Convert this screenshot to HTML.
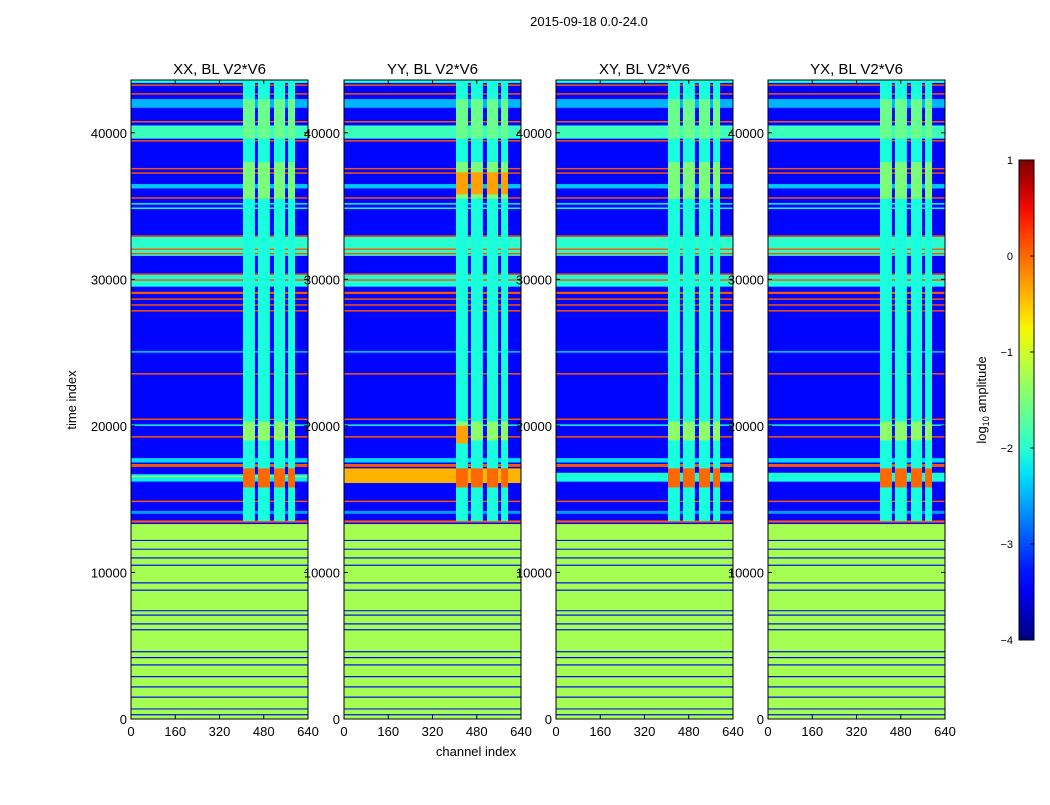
<!DOCTYPE html>
<html><head><meta charset="utf-8"><style>
body{margin:0;background:#fff;}
svg text{font-family:"Liberation Sans",sans-serif;}
</style></head><body>
<svg id="fig" width="1050" height="800" xmlns="http://www.w3.org/2000/svg">
<text x="589" y="26" font-size="13" text-anchor="middle">2015-09-18 0.0-24.0</text>
<text x="476" y="756" font-size="13" text-anchor="middle">channel index</text>
<text transform="translate(76,400) rotate(-90)" font-size="13" text-anchor="middle">time index</text>
<defs><linearGradient id="jet" x1="0" y1="1" x2="0" y2="0"></linearGradient></defs>
<g id="panels"></g>
<g id="cbar"></g>
<text transform="translate(986,400) rotate(-90)" font-size="13" text-anchor="middle">log<tspan font-size="9" dy="3">10</tspan><tspan dy="-3"> amplitude</tspan></text>
</svg>
<script>
const panelTitles=["XX, BL V2*V6","YY, BL V2*V6","XY, BL V2*V6","YX, BL V2*V6"];
const panelX=[131,344,556,768];
const xTicks=[0,160,320,480,640];
const yTicks=[0,10000,20000,30000,40000];
const cbTicks=[1,0,-1,-2,-3,-4];
const lowBase=[0,13300,-1.25];
const upBase=[13300,43600,-3.35];
const bands=[
[250,330,-3.5],[650,720,-3.5],[1450,1530,-3.5],[2150,2230,-3.5],[2850,2930,-3.5],[3650,3730,-3.5],[4150,4230,-3.5],[4550,4630,-3.5],[6050,6130,-3.5],[6450,6530,-3.5],[7050,7130,-3.5],[7350,7420,-3.5],[8750,8830,-3.5],[9250,9330,-3.5],[10450,10530,-3.5],[10950,11030,-3.5],[11550,11620,-3.5],[12150,12220,-3.5],
[13400,13550,0.1],[14000,14200,-2.6],[14800,14900,0.1],[16200,16700,-2.2],[16500,16600,-1.3],[17200,17400,0.1],[17500,17800,-2.3],[19200,19300,0.1],[20000,20100,-2.1],[20400,20500,0.1],[23500,23600,0.1],[25000,25100,-2.3],
[27800,27900,0.1],[28200,28300,0.1],[28600,28700,0.1],[29000,29150,0.1],[29500,30300,-2.1],[29900,30000,0.1],[30300,30400,0.1],
[31600,32900,-2.0],[31700,31800,0.1],[32000,32100,0.1],[32900,33000,0.1],[34800,34900,-2.1],[35100,35200,-2.1],[35500,35600,0.1],[36200,36500,-2.4],[37200,37300,0.1],[37500,37600,0.1],
[39400,39500,0.1],[39600,40500,-1.9],[40700,40800,0.1],[41700,42300,-2.5],[42600,42700,0.1],[43200,43300,0.1],[43400,43600,-2.1]];
const rfiCols=[[405,448],[459,502],[517,557],[568,593]];
const rfiRows=[[13500,43600,-2.1],[15800,17100,0.0],[19000,20300,-1.4],[35500,38000,-1.5],[39600,41700,-1.6],[41700,42300,-1.6]];
const extra=[[1,16100,17100,-0.4,0,640],[1,35800,37300,-0.3,405,593],[1,18800,20000,-0.3,405,448],[2,16200,16800,-2.1,0,640],[3,16200,16800,-2.1,0,640]];

function interp(n,pts){for(let i=1;i<pts.length;i++){if(n<=pts[i][0]){const [a,va]=pts[i-1],[b,vb]=pts[i];return va+(vb-va)*(n-a)/(b-a);}}return pts[pts.length-1][1];}
function jet(v){let n=(v+4)/5;n=Math.max(0,Math.min(1,n));
 const r=interp(n,[[0,0],[0.35,0],[0.66,1],[0.89,1],[1,0.5]]);
 const g=interp(n,[[0,0],[0.125,0],[0.375,1],[0.64,1],[0.91,0],[1,0]]);
 const b=interp(n,[[0,0.5],[0.11,1],[0.34,1],[0.65,0],[1,0]]);
 return `rgb(${Math.round(255*r)},${Math.round(255*g)},${Math.round(255*b)})`;}
const NS="http://www.w3.org/2000/svg";
const W=177,Y0=719,Y1=80,TMAX=43600;
function yS(t){return Y0-t/TMAX*(Y0-Y1);}
function mk(tag,attrs,par){const e=document.createElementNS(NS,tag);for(const k in attrs)e.setAttribute(k,attrs[k]);par.appendChild(e);return e;}
const root=document.getElementById('panels');
panelX.forEach((px,pi)=>{
 const xS=c=>px+c/640*W;
 const g=mk('g',{},root);
 
 
 const cell=(t0,t1,v,c0,c1)=>{const r=mk('rect',{x:xS(c0),y:yS(t1),width:xS(c1)-xS(c0),height:Math.max(0.8,yS(t0)-yS(t1)),fill:jet(v)},g);
  
  };
 cell(lowBase[0],lowBase[1],lowBase[2],0,640);
 cell(upBase[0],upBase[1],upBase[2],0,640);
 bands.forEach(b=>cell(b[0],b[1],b[2],0,640));
 extra.filter(e=>e[0]===pi&&e[4]===0).forEach(e=>cell(e[1],e[2],e[3],e[4],e[5]));
 rfiRows.forEach(r=>rfiCols.forEach(c=>cell(r[0],r[1],r[2],c[0],c[1])));
 extra.filter(e=>e[0]===pi&&e[4]!==0).forEach(e=>rfiCols.forEach(c=>{if(c[0]>=e[4]&&c[1]<=e[5])cell(e[1],e[2],e[3],c[0],c[1]);}));
 mk('rect',{x:px,y:Y1,width:W,height:Y0-Y1,fill:'none',stroke:'#000','stroke-width':1},g);
 const t=mk('text',{x:px+W/2,y:74,'font-size':15,'text-anchor':'middle'},g);t.textContent=panelTitles[pi];
 
 
 xTicks.forEach(v=>{const x=xS(v);mk('line',{x1:x,x2:x,y1:Y0,y2:Y0-4,stroke:'#000'},g);mk('line',{x1:x,x2:x,y1:Y1,y2:Y1+4,stroke:'#000'},g);
  const l=mk('text',{x:x,y:736,'font-size':13,'text-anchor':'middle'},g);l.textContent=v;
  
  });
 yTicks.forEach(v=>{const y=yS(v);mk('line',{x1:px,x2:px+4,y1:y,y2:y,stroke:'#000'},g);mk('line',{x1:px+W,x2:px+W-4,y1:y,y2:y,stroke:'#000'},g);
  const l=mk('text',{x:px-4,y:y+5,'font-size':13,'text-anchor':'end'},g);l.textContent=v;
  
  });
});
const grad=document.getElementById('jet');
for(let i=0;i<=20;i++){mk('stop',{offset:i/20,'stop-color':jet(-4+i*0.25)},grad);}
const cb=document.getElementById('cbar');
mk('rect',{x:1019,y:160,width:15,height:480,fill:'url(#jet)',stroke:'#000'},cb);
cbTicks.forEach(v=>{const y=640-(v+4)/5*480;mk('line',{x1:1030,x2:1034,y1:y,y2:y,stroke:'#000'},cb);
 const l=mk('text',{x:1013,y:y+4,'font-size':11,'text-anchor':'end'},cb);l.textContent=v<0?'\u2212'+(-v):v;
 
 });
</script>
</body></html>
